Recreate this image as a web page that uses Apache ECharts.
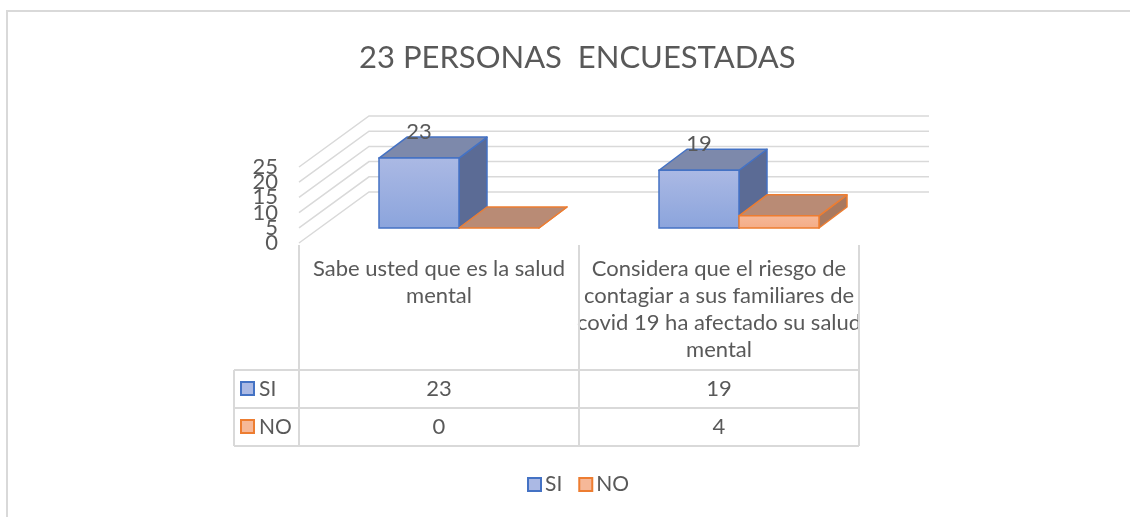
<!DOCTYPE html>
<html>
<head>
<meta charset="utf-8">
<script src="https://cdn.jsdelivr.net/npm/echarts@6/dist/echarts.min.js"></script>
<style>
  html, body { margin: 0; padding: 0; background: #fff; }
  #main { width: 1130px; height: 517px; }
</style>
</head>
<body>
<div id="main"></div>
<script>
// datos
const titleText = '23 PERSONAS  ENCUESTADAS';
const categories = [
  'Sabe usted que es la salud\nmental',
  'Considera que el riesgo de\ncontagiar a sus familiares de\ncovid 19 ha afectado su salud\nmental'
];
const seriesNames = ['SI', 'NO'];
const siValues = [23, 19];
const noValues = [0, 4];
const yTicks = [0, 5, 10, 15, 20, 25];

const FONT = 'Lato';
const TEXT = '#595959';
const GRID = '#d9d9d9';

// profundidad 3D (pixeles)
const WALL = [70, -51];   // fondo de la pared
const FRONT = [20, -15];  // cara frontal de las barras
const DEPTH = [28, -21];  // grosor de las barras

const palette = {
  SI: { top: '#7d89ab', side: '#5b6b95', border: '#4472c4', front: ['#abb9e4', '#8ba4dc'] },
  NO: { top: '#b98b75', side: '#a9795f', border: '#ed7d31', front: ['#f6b898', '#f4ac86'] }
};

// cuadricula en perspectiva + etiquetas del eje y (se solapan como en Excel)
function renderGrid(params, api) {
  const v = api.value(0);
  const bw = api.size([1, 0])[0];
  const p0 = api.coord([0, v]);
  const pN = api.coord([categories.length - 1, v]);
  const x0 = p0[0] - bw / 2, x1 = pN[0] + bw / 2, y = p0[1];
  return {
    type: 'group',
    children: [
      {
        type: 'polyline',
        shape: { points: [[x0, y], [x0 + WALL[0], y + WALL[1]], [x1 + WALL[0], y + WALL[1]]] },
        style: { stroke: GRID, lineWidth: 1.5, fill: null }
      },
      {
        type: 'text',
        style: {
          text: String(v), x: x0 - 21, y: y, align: 'right', verticalAlign: 'middle',
          fill: TEXT, font: '22px ' + FONT
        }
      }
    ]
  };
}

function makeBarRenderer(idx, name, showLabel) {
  const c = palette[name];
  return function (params, api) {
    const i = api.value(0), v = api.value(1);
    const bw = api.size([1, 0])[0];
    const w = bw * 80 / 280;
    const base = api.coord([i, 0]);
    const top = api.coord([i, v]);
    const x0 = base[0] - w + idx * w + FRONT[0];
    const x1 = x0 + w;
    const yB = base[1] + FRONT[1];
    const yT = top[1] + FRONT[1];
    const dx = DEPTH[0], dy = DEPTH[1];
    const children = [
      {
        type: 'polygon',
        shape: { points: [[x1, yT], [x1 + dx, yT + dy], [x1 + dx, yB + dy], [x1, yB]] },
        style: { fill: c.side, stroke: c.border, lineWidth: 1.5, lineJoin: 'round' }
      },
      {
        type: 'polygon',
        shape: { points: [[x0, yT], [x1, yT], [x1 + dx, yT + dy], [x0 + dx, yT + dy]] },
        style: { fill: c.top, stroke: c.border, lineWidth: 1.5, lineJoin: 'round' }
      }
    ];
    if (yB - yT > 0.5) {
      children.push({
        type: 'rect',
        shape: { x: x0, y: yT, width: w, height: yB - yT },
        style: {
          fill: new echarts.graphic.LinearGradient(0, 0, 0, 1, [
            { offset: 0, color: c.front[0] }, { offset: 1, color: c.front[1] }
          ]),
          stroke: c.border, lineWidth: 1.5
        }
      });
    }
    if (showLabel) {
      children.push({
        type: 'text',
        style: {
          text: String(v), x: (x0 + x1) / 2, y: yT - 26,
          align: 'center', verticalAlign: 'middle',
          fill: TEXT, font: '22px ' + FONT
        }
      });
    }
    return { type: 'group', children: children };
  };
}

// tabla de datos bajo el eje
function renderTable(params, api) {
  const i = api.value(0);
  const bw = api.size([1, 0])[0];
  const c = api.coord([i, 0]);
  const xL = c[0] - bw / 2, xR = c[0] + bw / 2;
  const yTop = c[1] + 2, yR1 = 370, yR2 = 408, yR3 = 446;
  const line = (a, b) => ({
    type: 'line', shape: { x1: a[0], y1: a[1], x2: b[0], y2: b[1] },
    style: { stroke: GRID, lineWidth: 2 }
  });
  const cell = (txt, y) => ({
    type: 'text',
    style: { text: String(txt), x: c[0], y: y, align: 'center', verticalAlign: 'middle', fill: TEXT, font: '22px ' + FONT }
  });
  const children = [
    line([xR, yTop], [xR, yR3]),
    line([xL, yR1], [xR, yR1]),
    line([xL, yR2], [xR, yR2]),
    line([xL, yR3], [xR, yR3]),
    cell(siValues[i], (yR1 + yR2) / 2),
    cell(noValues[i], (yR2 + yR3) / 2)
  ];
  if (i === 0) {
    children.push(line([xL, yTop], [xL, yR3]));
    children.push(line([234, yR1], [xL, yR1]), line([234, yR2], [xL, yR2]), line([234, yR3], [xL, yR3]));
    children.push(line([234, yR1], [234, yR3]));
    seriesNames.forEach((n, k) => {
      const yc = k === 0 ? (yR1 + yR2) / 2 : (yR2 + yR3) / 2;
      children.push({
        type: 'rect', shape: { x: 241, y: yc - 7, width: 13, height: 13 },
        style: { fill: palette[n].front[0], stroke: palette[n].border, lineWidth: 2 }
      });
      children.push({
        type: 'text',
        style: { text: n, x: 259, y: yc, verticalAlign: 'middle', fill: TEXT, font: '21px ' + FONT }
      });
    });
  }
  return { type: 'group', children: children };
}

const chart = echarts.init(document.getElementById('main'));
chart.setOption({
  animation: false,
  title: {
    text: titleText, left: 354, top: 37,
    textStyle: { fontFamily: FONT, fontSize: 31, fontWeight: 'normal', color: TEXT }
  },
  legend: {
    bottom: 17, left: 522, itemWidth: 13, itemHeight: 13, itemGap: 16,
    icon: 'rect',
    textStyle: { fontFamily: FONT, fontSize: 21, color: TEXT, padding: [0, 0, 0, -1] },
    data: seriesNames.map(n => ({
      name: n,
      itemStyle: { color: palette[n].front[0], borderColor: palette[n].border, borderWidth: 2 }
    }))
  },
  graphic: [{
    type: 'rect', silent: true, z: -10,
    shape: { x: 7, y: 11, width: 1140, height: 520 },
    style: { fill: null, stroke: GRID, lineWidth: 2 }
  }],
  grid: { left: 299, right: 271, top: 167, bottom: 274 },
  xAxis: {
    type: 'category', data: categories,
    axisLine: { show: false }, axisTick: { show: false },
    axisLabel: {
      interval: 0, margin: 12, lineHeight: 27,
      fontFamily: FONT, fontSize: 22, color: TEXT, verticalAlign: 'top'
    }
  },
  yAxis: {
    type: 'value', min: 0, max: 25, interval: 5,
    axisLine: { show: false }, axisTick: { show: false }, splitLine: { show: false },
    axisLabel: { show: false }
  },
  series: [
    {
      type: 'custom', name: 'grid3d', silent: true, z: 1,
      renderItem: renderGrid, data: yTicks.map(v => [v])
    },
    {
      type: 'custom', name: seriesNames[0], z: 3,
      itemStyle: { color: palette.SI.front[0] },
      renderItem: makeBarRenderer(0, 'SI', true),
      data: siValues.map((v, i) => [i, v])
    },
    {
      type: 'custom', name: seriesNames[1], z: 3,
      itemStyle: { color: palette.NO.front[0] },
      renderItem: makeBarRenderer(1, 'NO', false),
      data: noValues.map((v, i) => [i, v])
    },
    {
      type: 'custom', name: 'tabla', silent: true, z: 2,
      renderItem: renderTable, data: categories.map((c, i) => [i])
    }
  ]
});
</script>
</body>
</html>
